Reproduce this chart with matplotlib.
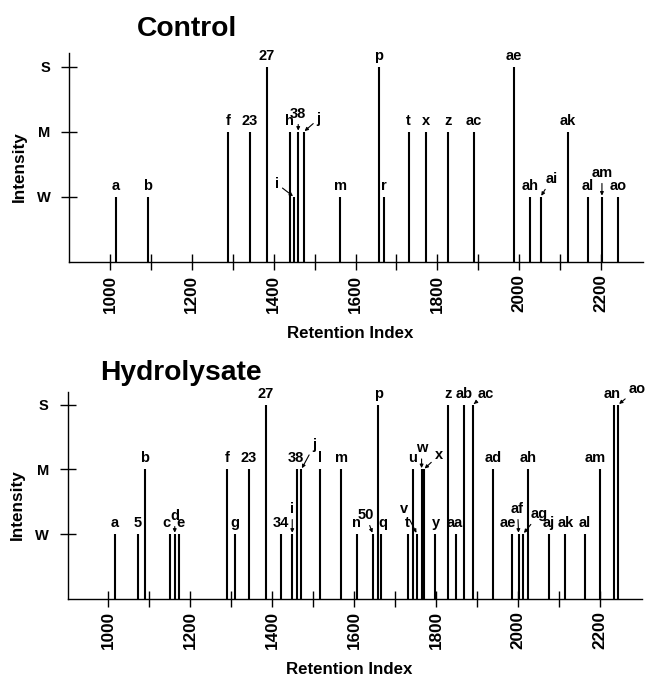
import matplotlib
matplotlib.use("Agg")
import matplotlib.pyplot as plt

plt.rcParams['font.family'] = ['Liberation Sans', 'DejaVu Sans']
plt.rcParams['font.weight'] = 'bold'

# ---------------------------------------------------------------------------
# Data: peak name, retention index, intensity level (1=W, 2=M, 3=S)
# ---------------------------------------------------------------------------
ctrl_names = ['a', 'b', 'f', '23', '27', 'h', 'i', '38', 'j', 'm', 'p', 'r',
              't', 'x', 'z', 'ac', 'ae', 'ah', 'ai', 'ak', 'al', 'am', 'ao']
ctrl_ri = [1014, 1092, 1289, 1342, 1384, 1439, 1450, 1460, 1473, 1563, 1657, 1670,
           1730, 1771, 1825, 1890, 1987, 2027, 2052, 2118, 2167, 2202, 2241]
ctrl_level = [1, 1, 2, 2, 3, 2, 1, 2, 2, 1, 3, 1,
              2, 2, 2, 2, 3, 1, 1, 2, 1, 1, 1]

hyd_names = ['a', '5', 'b', 'c', 'd', 'e', 'f', 'g', '23', '27', '34', 'i', '38', 'j',
             'l', 'm', 'n', '50', 'p', 'q', 't', 'u', 'v', 'w', 'x', 'y', 'z', 'aa',
             'ab', 'ac', 'ad', 'ae', 'af', 'ag', 'ah', 'aj', 'ak', 'al', 'am', 'an', 'ao']
hyd_ri = [1015, 1071, 1089, 1150, 1162, 1173, 1290, 1310, 1343, 1384, 1421, 1449, 1460, 1471,
          1518, 1569, 1607, 1646, 1659, 1665, 1732, 1743, 1754, 1765, 1770, 1799, 1829, 1850,
          1868, 1890, 1940, 1986, 2002, 2013, 2025, 2076, 2116, 2164, 2201, 2236, 2245]
hyd_level = [1, 1, 2, 1, 1, 1, 2, 1, 2, 3, 1, 1, 2, 2,
             2, 2, 1, 1, 3, 1, 1, 2, 1, 2, 2, 1, 3, 1,
             3, 3, 2, 1, 1, 1, 2, 1, 1, 1, 2, 3, 3]

level_labels = ['W', 'M', 'S']
major_ticks = [1000, 1200, 1400, 1600, 1800, 2000, 2200]
minor_ticks = [1100, 1300, 1500, 1700, 1900, 2100]

# label placement (pixels from bar top): (dx, dy, arrow)
ctrl_offsets = {
    'i': (-17, 13, True), '38': (0, 18, True), 'j': (15, 13, True),
    'ai': (11, 18, True), 'am': (0, 24, True),
}
hyd_offsets = {
    'c': (-3, 0, False), 'e': (1, 0, False), 'd': (0, 18, True),
    'i': (0, 25, True), '38': (-1, 0, False), 'j': (13, 24, True),
    '50': (-7, 19, True), 'q': (2, 0, False), 't': (-1, 0, False),
    'v': (-13, 25, True), 'w': (0, 21, True), 'x': (15, 14, True),
    'aa': (-2, 0, False), 'ac': (13, 11, True), 'ae': (-4, 0, False),
    'af': (-1, 25, True), 'ag': (16, 20, True), 'am': (-5, 0, False),
    'an': (-2, 0, False), 'ao': (19, 16, True),
}


def draw_panel(ax, names, ri, level, offsets, ytop):
    ax.vlines(ri, 0, level, colors='black', linewidth=1.5)
    for name, x, y in zip(names, ri, level):
        dx, dy, arrow = offsets.get(name, (0, 0, False))
        if arrow:
            ax.annotate(name, xy=(x, y), xytext=(dx, dy), textcoords='offset pixels',
                        ha='center', va='center', fontsize=10.5,
                        arrowprops=dict(arrowstyle='-|>', color='black', lw=0.8,
                                        mutation_scale=5, shrinkA=0.5, shrinkB=1))
        else:
            ax.annotate(name, xy=(x, y), xytext=(dx, 4), textcoords='offset pixels',
                        ha='center', va='bottom', fontsize=10.5)

    ax.set_xlim(900, 2303)
    ax.set_ylim(0, ytop)
    ax.spines['top'].set_visible(False)
    ax.spines['right'].set_visible(False)
    ax.spines['left'].set_linewidth(1)
    ax.spines['bottom'].set_linewidth(1)

    ax.set_xticks(major_ticks)
    ax.set_xticklabels([str(t) for t in major_ticks], rotation=90, fontsize=12.3)
    ax.set_xticks(minor_ticks, minor=True)
    ax.tick_params(axis='x', which='both', direction='inout', length=11, width=1, pad=3.5)
    ax.set_yticks([1, 2, 3])
    ax.set_yticklabels(level_labels, fontsize=10.5)
    ax.tick_params(axis='y', direction='inout', length=11, width=1, pad=8)

    ax.set_xlabel('Retention Index', fontsize=12.2, fontweight='bold')
    ax.xaxis.set_label_coords(0.49, -0.305)
    ax.text(-0.087, 0.455, 'Intensity', transform=ax.transAxes, rotation=90,
            ha='center', va='center', fontsize=12.3)


fig = plt.figure(figsize=(6.46, 6.77), dpi=100)

ax_ctrl = fig.add_axes([0.1068, 0.6130, 0.889, 0.3087])
draw_panel(ax_ctrl, ctrl_names, ctrl_ri, ctrl_level, ctrl_offsets, 3.215)

ax_hyd = fig.add_axes([0.1045, 0.1157, 0.889, 0.3058])
draw_panel(ax_hyd, hyd_names, hyd_ri, hyd_level, hyd_offsets, 3.205)

fig.text(187 / 646, 1 - 36 / 677, 'Control', ha='center', va='baseline',
         fontsize=20.3, fontweight='bold')
fig.text(181 / 646, 1 - 380 / 677, 'Hydrolysate', ha='center', va='baseline',
         fontsize=20.3, fontweight='bold')

fig.savefig('out.png', dpi=100)
